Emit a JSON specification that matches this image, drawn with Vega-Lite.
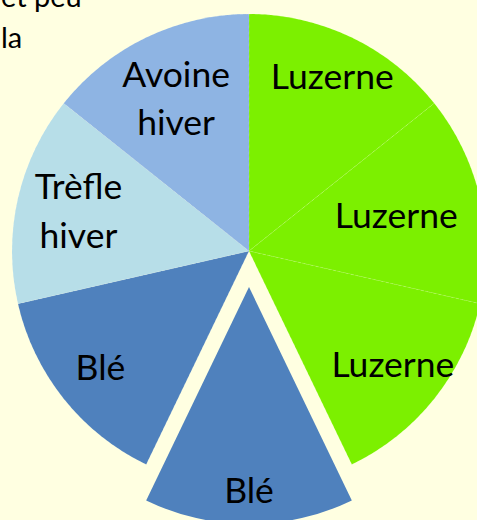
{
  "$schema": "https://vega.github.io/schema/vega-lite/v6.json",
  "width": 456,
  "height": 502,
  "autosize": {"type": "none"},
  "padding": {"left": 21, "top": 0, "right": 0, "bottom": 18},
  "background": "#FFFFE1",
  "config": {"view": {"stroke": null}},
  "title": {
    "text": ["et peu", "la"],
    "anchor": "start",
    "orient": "top",
    "frame": "group",
    "baseline": "alphabetic",
    "font": "Lato",
    "fontSize": 29,
    "fontWeight": "normal",
    "color": "#000000",
    "lineHeight": 41,
    "offset": 0,
    "dx": -20,
    "dy": 77
  },
  "data": {
    "values": [
      {"id": 1, "crop": "Luzerne", "label": "Luzerne", "value": 1},
      {"id": 2, "crop": "Luzerne", "label": "Luzerne", "value": 1},
      {"id": 3, "crop": "Luzerne", "label": "Luzerne", "value": 1},
      {"id": 4, "crop": "Blé", "label": "Blé", "value": 1},
      {"id": 5, "crop": "Blé", "label": "Blé", "value": 1},
      {"id": 6, "crop": "Trèfle hiver", "label": "Trèfle\nhiver", "value": 1},
      {"id": 7, "crop": "Avoine hiver", "label": "Avoine\nhiver", "value": 1}
    ]
  },
  "encoding": {
    "theta": {"field": "value", "type": "quantitative", "stack": true},
    "order": {"field": "id", "type": "quantitative"},
    "color": {
      "field": "crop",
      "type": "nominal",
      "scale": {
        "domain": ["Luzerne", "Blé", "Trèfle hiver", "Avoine hiver"],
        "range": ["#7CF000", "#4F81BD", "#B7DEE8", "#8EB4E3"]
      },
      "legend": null
    }
  },
  "layer": [
    {
      "mark": {"type": "arc", "radius": 237, "stroke": "#ffffff", "strokeWidth": 0.5, "strokeOpacity": 0.35, "strokeDash": [3, 3]},
      "encoding": {"opacity": {"condition": {"test": "datum.id === 4", "value": 0}, "value": 1}}
    },
    {
      "mark": {"type": "arc", "radius": 237, "yOffset": 36},
      "encoding": {"opacity": {"condition": {"test": "datum.id === 4", "value": 1}, "value": 0}}
    },
    {
      "mark": {"type": "text", "radius": 192, "font": "Lato", "fontSize": 35.5, "align": "center", "baseline": "middle"},
      "encoding": {"color": {"value": "#000000"}, "text": {"condition": {"test": "datum.id === 1", "field": "label"}, "value": ""}}
    },
    {
      "mark": {"type": "text", "radius": 151, "font": "Lato", "fontSize": 35.5, "align": "center", "baseline": "middle"},
      "encoding": {"color": {"value": "#000000"}, "text": {"condition": {"test": "datum.id === 2", "field": "label"}, "value": ""}}
    },
    {
      "mark": {"type": "text", "radius": 184, "font": "Lato", "fontSize": 35.5, "align": "center", "baseline": "middle"},
      "encoding": {"color": {"value": "#000000"}, "text": {"condition": {"test": "datum.id === 3", "field": "label"}, "value": ""}}
    },
    {
      "mark": {"type": "text", "radius": 205, "yOffset": 36, "font": "Lato", "fontSize": 35.5, "align": "center", "baseline": "middle"},
      "encoding": {"color": {"value": "#000000"}, "text": {"condition": {"test": "datum.id === 4", "field": "label"}, "value": ""}}
    },
    {
      "mark": {"type": "text", "radius": 190, "font": "Lato", "fontSize": 35.5, "align": "center", "baseline": "middle"},
      "encoding": {"color": {"value": "#000000"}, "text": {"condition": {"test": "datum.id === 5", "field": "label"}, "value": ""}}
    },
    {
      "mark": {"type": "text", "radius": 175, "dy": -24, "font": "Lato", "fontSize": 35.5, "lineBreak": "\n", "lineHeight": 48.5, "align": "center", "baseline": "middle"},
      "encoding": {"color": {"value": "#000000"}, "text": {"condition": {"test": "datum.id === 6", "field": "label"}, "value": ""}}
    },
    {
      "mark": {"type": "text", "radius": 168, "dy": -24, "font": "Lato", "fontSize": 35.5, "lineBreak": "\n", "lineHeight": 48.5, "align": "center", "baseline": "middle"},
      "encoding": {"color": {"value": "#000000"}, "text": {"condition": {"test": "datum.id === 7", "field": "label"}, "value": ""}}
    }
  ]
}
